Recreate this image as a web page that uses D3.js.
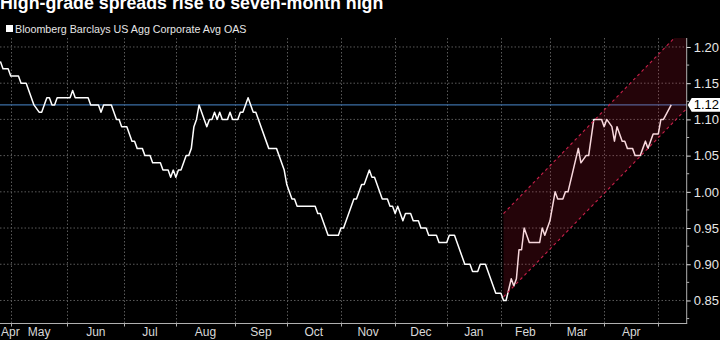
<!DOCTYPE html>
<html>
<head>
<meta charset="utf-8">
<script src="https://cdn.jsdelivr.net/npm/d3@7"></script>
<style>
  html, body { margin: 0; padding: 0; background: #000; }
  svg { display: block; }
</style>
</head>
<body>
<svg id="chart" width="720" height="340"></svg>
<script>
// Bloomberg Barclays US Agg Corporate Avg OAS, daily (trading-day index), Apr 2017 – May 2018
const monthLabels = ["Apr", "May", "Jun", "Jul", "Aug", "Sep", "Oct", "Nov", "Dec", "Jan", "Feb", "Mar", "Apr"];
// trading-day index where each month begins (last entry closes the final month)
const monthStarts = [-16, 4, 26, 48, 68, 91, 111, 132, 153, 173, 194, 213, 234, 255];

const dayIndex = [0, 1, 3, 4, 7, 8, 10, 13, 15, 16, 18, 19, 20, 21, 22, 27, 28, 29, 34, 35,
  38, 39, 40, 43, 45, 46, 47, 49, 50, 51, 52, 53, 55, 56, 58, 59, 62, 63, 65, 66,
  67, 68, 69, 70, 72, 73, 74, 75, 76, 77, 80, 81, 82, 83, 84, 85, 86, 88, 89, 90,
  92, 93, 94, 96, 97, 98, 99, 104, 107, 110, 111, 113, 114, 115, 122, 123, 124, 127, 131, 132,
  133, 137, 138, 140, 141, 143, 144, 145, 148, 150, 151, 152, 153, 154, 156, 157, 159, 160, 162, 163,
  165, 166, 169, 170, 173, 174, 176, 180, 182, 183, 185, 186, 188, 192, 194, 195, 196, 198, 199, 200,
  201, 202, 203, 205, 209, 210, 211, 213, 215, 216, 218, 219, 220, 222, 224, 225, 227, 228, 230, 233,
  234, 235, 237, 238, 239, 241, 242, 243, 245, 246, 248, 249, 250, 251, 253, 255, 256, 257, 260];
const oas = [1.18, 1.17, 1.17, 1.16, 1.16, 1.15, 1.15, 1.12, 1.11, 1.11, 1.13, 1.13, 1.12, 1.12, 1.13, 1.13, 1.14, 1.13, 1.13, 1.12,
  1.12, 1.11, 1.12, 1.12, 1.10, 1.10, 1.09, 1.09, 1.08, 1.07, 1.07, 1.06, 1.06, 1.05, 1.05, 1.04, 1.04, 1.03, 1.03, 1.02,
  1.03, 1.02, 1.03, 1.03, 1.05, 1.05, 1.06, 1.09, 1.10, 1.12, 1.09, 1.10, 1.10, 1.11, 1.10, 1.11, 1.10, 1.10, 1.11, 1.10,
  1.10, 1.11, 1.11, 1.13, 1.12, 1.11, 1.11, 1.06, 1.06, 1.03, 1.01, 0.99, 0.99, 0.98, 0.98, 0.97, 0.97, 0.94, 0.94, 0.95,
  0.95, 0.99, 0.99, 1.01, 1.01, 1.03, 1.02, 1.02, 0.99, 0.99, 0.98, 0.98, 0.97, 0.98, 0.96, 0.97, 0.97, 0.96, 0.96, 0.95,
  0.95, 0.94, 0.94, 0.93, 0.93, 0.94, 0.94, 0.90, 0.90, 0.89, 0.89, 0.90, 0.90, 0.86, 0.86, 0.85, 0.85, 0.88, 0.87, 0.88,
  0.92, 0.92, 0.95, 0.93, 0.93, 0.95, 0.94, 0.96, 1.00, 0.99, 0.99, 1.00, 1.00, 1.03, 1.06, 1.04, 1.05, 1.05, 1.10, 1.10,
  1.09, 1.10, 1.09, 1.07, 1.09, 1.07, 1.07, 1.06, 1.06, 1.05, 1.05, 1.06, 1.07, 1.06, 1.08, 1.08, 1.10, 1.10, 1.12];

const yTicks = [0.85, 0.90, 0.95, 1.00, 1.05, 1.10, 1.15, 1.20];
const yMinorTicks = [0.825, 0.875, 0.925, 0.975, 1.025, 1.075, 1.125, 1.175];
const lastValue = 1.12;

// rising trend channel since the February low
const channelDays = [195, 266];
const channelLow = [0.855, 1.115];
const channelHigh = [0.97, 1.23];

const title = "High-grade spreads rise to seven-month high";
const legendLabel = "Bloomberg Barclays US Agg Corporate Avg OAS";

const W = 720, H = 340;
const plot = { left: 0, right: 686.7, top: 38, bottom: 323.5 };

const svg = d3.select("#chart");

const x = d3.scaleLinear().domain([0, 266]).range([0.4, plot.right]);
const y = d3.scaleLinear().domain([0.8182, 1.2124]).range([plot.bottom, plot.top]);

const series = dayIndex.map((d, i) => ({ d, v: oas[i] }));

svg.append("defs").append("clipPath").attr("id", "plotClip")
  .append("rect")
  .attr("x", plot.left).attr("y", plot.top)
  .attr("width", plot.right - plot.left).attr("height", plot.bottom - plot.top);

// title (runs off the top edge)
svg.append("text")
  .attr("x", 0).attr("y", 9)
  .attr("font-family", "'Liberation Sans', Arial, sans-serif")
  .attr("font-weight", "bold")
  .attr("font-size", 17.8)
  .attr("fill", "#ffffff")
  .text(title);

// legend
svg.append("rect").attr("x", 6).attr("y", 25).attr("width", 7).attr("height", 7).attr("fill", "#ffffff");
svg.append("text")
  .attr("x", 15).attr("y", 32.5)
  .attr("font-family", "'Liberation Sans', Arial, sans-serif")
  .attr("font-size", 10.7)
  .attr("fill", "#e6e6e6")
  .text(legendLabel);

// grid
const grid = svg.append("g");
grid.selectAll("line.h").data(yTicks).join("line")
  .attr("x1", plot.left).attr("x2", plot.right)
  .attr("y1", d => y(d)).attr("y2", d => y(d))
  .attr("stroke", "#5a5a5a").attr("stroke-width", 1)
  .attr("stroke-dasharray", "1.5,2");
grid.selectAll("line.v").data(monthStarts.slice(1)).join("line")
  .attr("x1", d => Math.round(x(d)) + 0.5).attr("x2", d => Math.round(x(d)) + 0.5)
  .attr("y1", plot.top).attr("y2", plot.bottom)
  .attr("stroke", "#5a5a5a").attr("stroke-width", 1)
  .attr("stroke-dasharray", "1.5,2");

// latest-value reference line
svg.append("line")
  .attr("x1", plot.left).attr("x2", plot.right)
  .attr("y1", y(lastValue)).attr("y2", y(lastValue))
  .attr("stroke", "#3b6ea5").attr("stroke-width", 1.2);

// spread line
const line = d3.line().x(p => x(p.d)).y(p => y(p.v));
svg.append("path")
  .datum(series)
  .attr("d", line)
  .attr("fill", "none")
  .attr("stroke", "#ffffff")
  .attr("stroke-width", 1.5)
  .attr("stroke-linejoin", "round");

// trend channel
const chLow = channelDays.map((d, i) => ({ d, v: channelLow[i] }));
const chHigh = channelDays.map((d, i) => ({ d, v: channelHigh[i] }));
const chArea = d3.area().x(p => x(p.d)).y0((p, i) => y(chLow[i].v)).y1(p => y(p.v));
const channel = svg.append("g").attr("clip-path", "url(#plotClip)");
channel.append("path")
  .datum(chHigh)
  .attr("d", chArea)
  .attr("fill", "rgba(215,25,55,0.17)");
[chLow, chHigh].forEach(edge => {
  channel.append("path")
    .datum(edge)
    .attr("d", line)
    .attr("fill", "none")
    .attr("stroke", "#c8204a")
    .attr("stroke-width", 1.1)
    .attr("stroke-dasharray", "3,3");
});

// axes frame
const axisColor = "#b0b0b0";
svg.append("line")
  .attr("x1", plot.left).attr("x2", plot.right + 0.5)
  .attr("y1", plot.bottom).attr("y2", plot.bottom)
  .attr("stroke", axisColor).attr("stroke-width", 1);
svg.append("line")
  .attr("x1", plot.right).attr("x2", plot.right)
  .attr("y1", plot.top).attr("y2", plot.bottom)
  .attr("stroke", axisColor).attr("stroke-width", 1);

// right value axis
const yAxis = d3.axisRight(y).tickValues(yTicks).tickSize(4).tickPadding(3)
  .tickFormat(d3.format(".2f"));
const yAxisG = svg.append("g").attr("transform", `translate(${plot.right},0)`).call(yAxis);
yAxisG.select(".domain").remove();
yAxisG.selectAll(".tick line").attr("stroke", "#e0e0e0");
yAxisG.selectAll(".tick text")
  .attr("fill", "#e6e6e6")
  .attr("font-family", "'Liberation Sans', Arial, sans-serif")
  .attr("font-size", 13);
svg.append("g").selectAll("line").data(yMinorTicks).join("line")
  .attr("x1", plot.right).attr("x2", plot.right + 2.5)
  .attr("y1", d => y(d)).attr("y2", d => y(d))
  .attr("stroke", axisColor);

// month ticks along the bottom
svg.append("g").selectAll("line").data(monthStarts.slice(1)).join("line")
  .attr("x1", d => Math.round(x(d)) + 0.5).attr("x2", d => Math.round(x(d)) + 0.5)
  .attr("y1", plot.bottom).attr("y2", plot.bottom + 3)
  .attr("stroke", axisColor);

// month labels centred in each month
const monthText = svg.append("g").selectAll("text").data(monthLabels).join("text")
  .attr("y", 336)
  .attr("text-anchor", "middle")
  .attr("font-family", "'Liberation Sans', Arial, sans-serif")
  .attr("font-size", 12)
  .attr("fill", "#d8d8d8")
  .text(d => d);
monthText.each(function (d, i) {
  const cx = (x(monthStarts[i]) + x(monthStarts[i + 1])) / 2;
  const half = this.getComputedTextLength() / 2;
  d3.select(this).attr("x", Math.max(cx, half + 1));
});

// latest value tag
const tagY = y(lastValue);
const tag = svg.append("g");
tag.append("path")
  .attr("d", `M${plot.right + 1},${tagY} L${plot.right + 5},${tagY - 6.8} H${W} V${tagY + 6.8} H${plot.right + 5} Z`)
  .attr("fill", "#ffffff");
tag.append("text")
  .attr("x", plot.right + 7).attr("y", tagY)
  .attr("dy", "0.35em")
  .attr("font-family", "'Liberation Sans', Arial, sans-serif")
  .attr("font-size", 13)
  .attr("fill", "#000000")
  .text(d3.format(".2f")(lastValue));
</script>
</body>
</html>
